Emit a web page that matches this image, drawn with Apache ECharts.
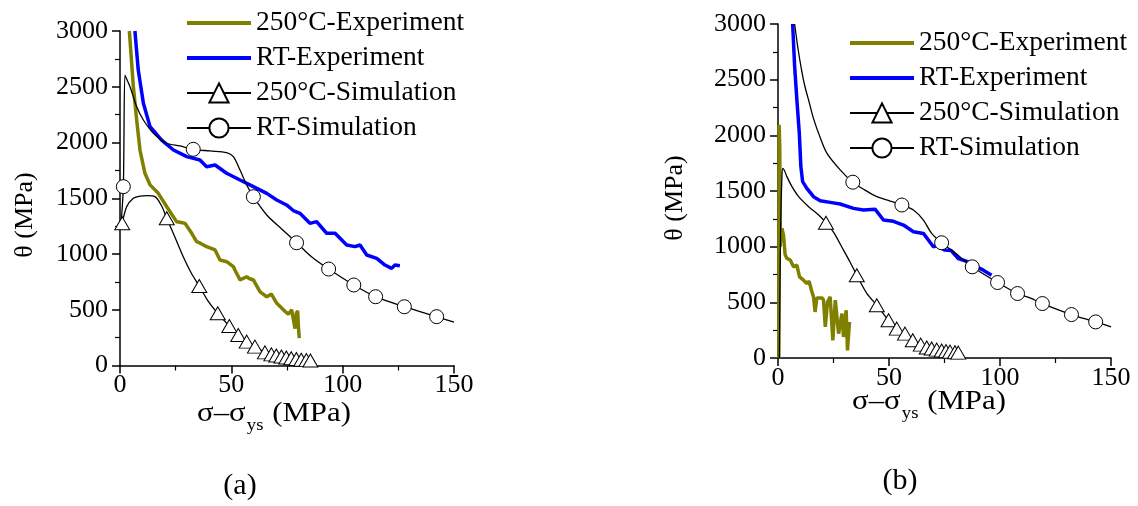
<!DOCTYPE html>
<html>
<head>
<meta charset="utf-8">
<script src="https://cdn.jsdelivr.net/npm/echarts@6/dist/echarts.min.js"></script>
<style>
html, body { margin: 0; padding: 0; background: #fff; }
#main { width: 1138px; height: 506px; }
</style>
</head>
<body>
<div id="main"></div>
<script>
// series names
var names = ['250°C-Experiment', 'RT-Experiment', '250°C-Simulation', 'RT-Simulation'];
var xTicks = [0, 50, 100, 150];
var yTicks = [0, 500, 1000, 1500, 2000, 2500, 3000];

// ---- panel (a) ----
var expA250 = [[4.2,3000],[6,2500],[7.5,2200],[9,1930],[11.2,1724],[13.5,1620],[17.2,1544],[21,1424],[25.4,1290],[27,1285],[29.2,1275],[32.2,1186],[34.4,1110],[36,1097],[38.9,1066],[42.7,1036],[44.9,946],[47.9,931],[50.9,887],[51.6,857],[53.9,768],[56.9,796],[58,780],[59.9,767],[62.9,660],[65.9,617],[68,640],[70.4,558],[73.4,499],[75.6,460],[77.1,499],[77.8,420],[78.6,330],[79.2,470],[79.8,490],[80.1,360],[80.5,245]];
var expART = [[6.7,3000],[8.2,2650],[10.5,2352],[13.5,2142],[18.7,2022],[24,1933],[30,1873],[35.9,1843],[38.9,1783],[42.7,1798],[47.9,1724],[53.9,1664],[59.9,1604],[65.9,1544],[70.4,1484],[74.8,1440],[77.8,1390],[80.8,1365],[85.3,1275],[88.3,1290],[92.8,1186],[96.6,1186],[101.8,1081],[105.5,1066],[107.8,1081],[110.8,991],[115.3,961],[119,901],[122,871],[123.5,901],[125.7,895]];
var simA250Line = [[3,1424],[6,1500],[9,1520],[12,1523],[15.7,1514],[18.7,1430],[24.5,1160],[28.4,976],[32,830],[39.5,580]];
var simA250Marks = [[1,1275],[21,1320],[35.6,713],[43.9,468],[49.1,354],[53.1,273],[56.9,214],[60.6,169],[65.1,118],[68,100],[70.2,90],[72.5,80],[74.7,72],[76.9,65],[79.2,58],[81.4,52],[83.7,48],[85.5,45]];
var simARTLine = [[0.3,1230],[2.2,2605],[3,2570],[4.5,2500],[7.5,2321],[10.5,2202],[15,2083],[21,1993],[26.9,1969],[40.4,1924],[47.9,1909],[50.9,1873],[53.9,1753],[56.9,1619],[65.9,1350],[72.6,1225],[86,975],[150,388]];
var simARTMarks = [[1.5,1604],[32.9,1939],[59.9,1514],[79.3,1101],[93.7,865],[105,722],[114.8,617],[127.7,527],[142.2,438]];

// ---- panel (b) ----
var expB250 = [[0.4,0],[0.5,2094],[0.8,1900],[1.0,1000],[1.3,1120],[1.8,1165],[2.5,1100],[3.2,930],[4,895],[5.5,880],[7,819],[8.5,834],[9.7,729],[11.5,699],[13,669],[14,690],[15.2,600],[16,549],[16.7,414],[17.5,540],[18.3,549],[20,540],[20.5,519],[21.3,279],[22.3,500],[23.5,549],[24.7,159],[25.8,519],[27.3,219],[28.8,399],[29.5,189],[30.7,429],[31.3,69],[32.2,324]];
var expBRT = [[6.6,3000],[7.5,2619],[8.5,2319],[9.6,2019],[10.3,1719],[11.1,1584],[13,1524],[16,1449],[19,1413],[23.5,1398],[28,1383],[34,1344],[38.5,1329],[43.8,1335],[47.5,1239],[52,1228],[56.5,1194],[61,1134],[65.5,1119],[70,999],[71.5,1010],[75.2,969],[78,965],[81.2,894],[85.7,864],[89.5,819],[92.5,789],[96.2,744]];
var simB250Line = [[0.6,0],[1.2,1200],[1.8,1650],[2.2,1704],[3,1680],[4,1629],[6.3,1539],[9.3,1449],[13.8,1359],[18.3,1284],[25,1130],[29.5,969],[32.5,860],[40,580]];
var simB250Marks = [[21.6,1215],[35.5,744],[44.5,474],[49.8,339],[53.5,264],[57.2,219],[60.7,159],[64.3,120],[67,95],[69.2,85],[71.5,75],[73.7,68],[75.7,62],[77.5,57],[79.7,52],[81.2,48]];
var simBRTLine = [[7.5,3000],[9,2780],[10.5,2600],[12,2450],[14,2300],[16,2150],[19,1980],[22,1840],[28,1690],[39,1510],[44.5,1449],[50.5,1410],[61,1329],[65.5,1239],[69.2,1119],[78.2,969],[113.5,540],[150,279]];
var simBRTMarks = [[33.7,1579],[55.8,1374],[73.7,1035],[87.5,819],[98.9,678],[107.9,579],[119.1,489],[132.2,390],[143.1,324]];

var FONT = 'Liberation Serif';

// line points without symbol + marker points, sorted along x
function simData(line, marks) {
    var d = [];
    line.forEach(function (p) { d.push({ value: p, symbol: 'none' }); });
    marks.forEach(function (p) { d.push({ value: p }); });
    d.sort(function (a, b) { return a.value[0] - b.value[0]; });
    return d;
}

function plain(v) { return String(v); }

function xAxisOf(idx) {
    return {
        gridIndex: idx, type: 'value', min: xTicks[0], max: xTicks[xTicks.length - 1], interval: 50,
        axisLine: { lineStyle: { color: '#000', width: 1.5 } },
        axisTick: { inside: false, length: 8, lineStyle: { color: '#000', width: 1.5 } },
        minorTick: { show: true, splitNumber: 2, length: 5, lineStyle: { color: '#000', width: 1.2 } },
        axisLabel: { color: '#000', fontFamily: FONT, fontSize: 26, margin: 7, formatter: plain },
        splitLine: { show: false }
    };
}
function yAxisOf(idx) {
    return {
        gridIndex: idx, type: 'value', min: yTicks[0], max: yTicks[yTicks.length - 1], interval: 500,
        axisLine: { show: true, lineStyle: { color: '#000', width: 1.5 } },
        axisTick: { show: true, inside: false, length: 8, lineStyle: { color: '#000', width: 1.5 } },
        minorTick: { show: true, splitNumber: 2, length: 5, lineStyle: { color: '#000', width: 1.2 } },
        axisLabel: { color: '#000', fontFamily: FONT, fontSize: 26, margin: 12, formatter: plain },
        splitLine: { show: false }
    };
}

function panelSeries(idx, e250, eRT, s250, sRT) {
    return [
        {
            name: names[0], type: 'line', xAxisIndex: idx, yAxisIndex: idx, data: e250,
            symbol: 'none', lineStyle: { color: '#808000', width: 3.5 }, itemStyle: { color: '#808000' }
        },
        {
            name: names[1], type: 'line', xAxisIndex: idx, yAxisIndex: idx, data: eRT,
            symbol: 'none', lineStyle: { color: '#0000ff', width: 3.5 }, itemStyle: { color: '#0000ff' }
        },
        {
            name: names[2], type: 'line', xAxisIndex: idx, yAxisIndex: idx, data: s250, smooth: 0.3,
            symbol: 'triangle', symbolSize: [15, 13], showSymbol: true,
            lineStyle: { color: '#000', width: 1.3 },
            itemStyle: { color: '#fff', borderColor: '#000', borderWidth: 1 }
        },
        {
            name: names[3], type: 'line', xAxisIndex: idx, yAxisIndex: idx, data: sRT, smooth: 0.3,
            symbol: 'circle', symbolSize: 14, showSymbol: true,
            lineStyle: { color: '#000', width: 1.3 },
            itemStyle: { color: '#fff', borderColor: '#000', borderWidth: 1 }
        }
    ];
}

function legendOf(left, top) {
    return {
        orient: 'vertical', left: left, top: top, padding: 0,
        data: [
            { name: names[0], itemStyle: { opacity: 0 }, lineStyle: { width: 4 } },
            { name: names[1], itemStyle: { opacity: 0 }, lineStyle: { width: 4 } },
            { name: names[2] },
            { name: names[3] }
        ],
        itemWidth: 64, itemHeight: 24, itemGap: 7, selectedMode: false,
        textStyle: { color: '#000', fontFamily: FONT, fontSize: 27.5 }
    };
}

var chart = echarts.init(document.getElementById('main'), null, { renderer: 'canvas' });

var xTitleRich = {
    m: { fontFamily: FONT, fontSize: 28, color: '#000' },
    s: { fontFamily: FONT, fontSize: 17, color: '#000', padding: [24, 1, 0, 1] }
};

var option = {
    backgroundColor: '#fff',
    animation: false,
    grid: [
        { left: 120, top: 31, width: 334, height: 334.5 },
        { left: 778, top: 24, width: 333, height: 334 }
    ],
    xAxis: [xAxisOf(0), xAxisOf(1)],
    yAxis: [yAxisOf(0), yAxisOf(1)],
    legend: [legendOf(185, 9), legendOf(848, 29)],
    series: [].concat(
        panelSeries(0, expA250, expART, simData(simA250Line, simA250Marks), simData(simARTLine, simARTMarks)),
        panelSeries(1, expB250, expBRT, simData(simB250Line, simB250Marks), simData(simBRTLine, simBRTMarks))
    ),
    graphic: [
        { type: 'text', x: 25, y: 215, rotation: Math.PI / 2,
          style: { text: 'θ (MPa)', fontFamily: FONT, fontSize: 26, fill: '#000', align: 'center', verticalAlign: 'middle' } },
        { type: 'text', x: 675, y: 198, rotation: Math.PI / 2,
          style: { text: 'θ (MPa)', fontFamily: FONT, fontSize: 26, fill: '#000', align: 'center', verticalAlign: 'middle' } },
        { type: 'text', x: 274, y: 414, scaleX: 1.1,
          style: { text: '{m|σ–σ}{s|ys}{m| (MPa)}', rich: xTitleRich, align: 'center', verticalAlign: 'middle' } },
        { type: 'text', x: 929, y: 402, scaleX: 1.1,
          style: { text: '{m|σ–σ}{s|ys}{m| (MPa)}', rich: xTitleRich, align: 'center', verticalAlign: 'middle' } },
        { type: 'text', x: 240, y: 486,
          style: { text: '(a)', fontFamily: FONT, fontSize: 30, fill: '#000', align: 'center', verticalAlign: 'middle' } },
        { type: 'text', x: 900, y: 481,
          style: { text: '(b)', fontFamily: FONT, fontSize: 30, fill: '#000', align: 'center', verticalAlign: 'middle' } }
    ]
};

chart.setOption(option);
</script>
</body>
</html>
